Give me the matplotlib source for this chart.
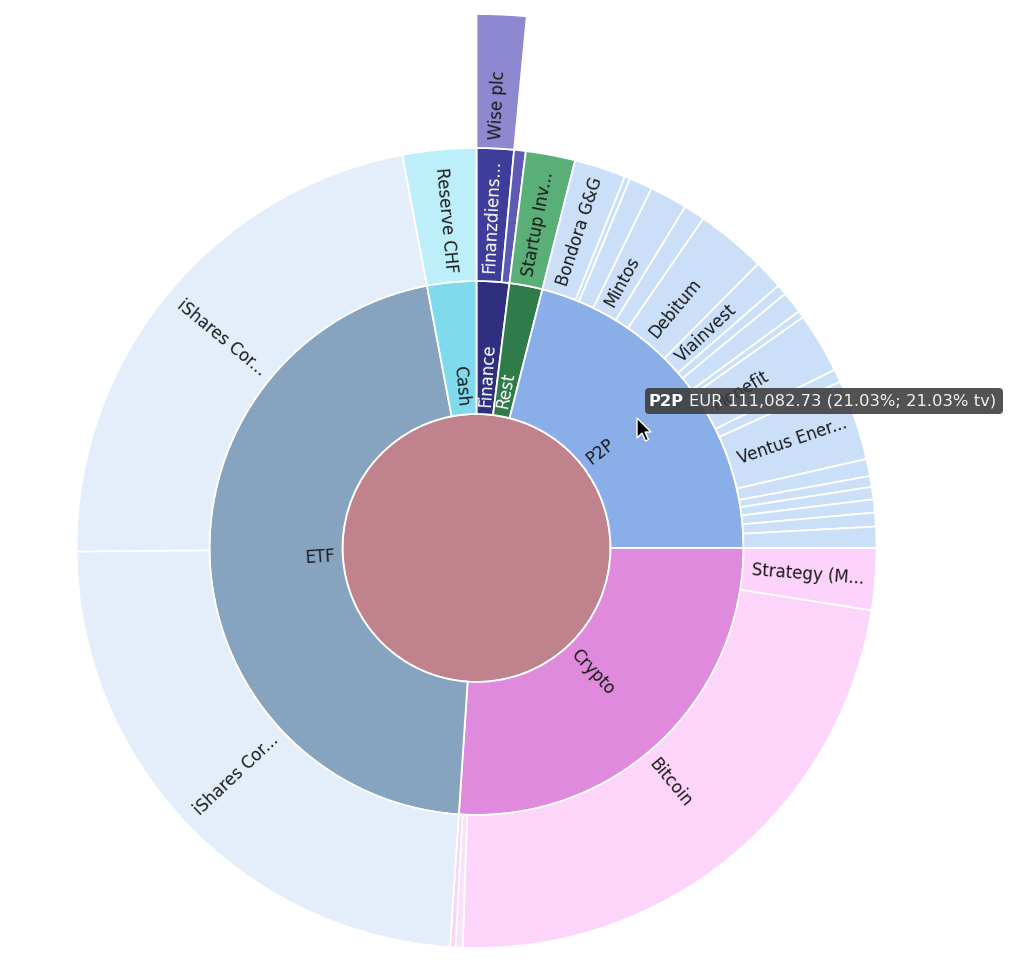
import matplotlib
matplotlib.use('Agg')
import matplotlib.pyplot as plt
import numpy as np
from matplotlib.patches import FancyBboxPatch, Polygon

# ---------------- data (share of total portfolio value, %) ----------------
groups = ['Finance', 'Rest', 'P2P', 'Crypto', 'ETF', 'Cash']

finance_names = ['Finanzdiens...', '']
finance_vals = [1.50, 0.47]
rest_names = ['Startup Inv...']
rest_vals = [2.00]
p2p_names = ['Bondora G&G', '', '', 'Mintos', '', 'Debitum', 'Viainvest', '', '', '',
             'Monefit', '', 'Ventus Ener...', '', '', '', '', '', '']
p2p_vals = [2.08, 0.22, 0.94, 1.53, 0.86, 2.83, 1.19, 0.42, 0.89, 0.28,
            2.44, 0.53, 3.25, 0.69, 0.44, 0.50, 0.53, 0.56, 0.85]
crypto_names = ['Strategy (M...', 'Bitcoin', '', '']
crypto_vals = [2.50, 23.06, 0.28, 0.22]
etf_names = ['iShares Cor...', 'iShares Cor...']
etf_vals = [23.81, 22.17]
cash_names = ['Reserve CHF']
cash_vals = [2.97]
# third level: child of "Finanzdiens..."
wise_names = ['Wise plc']
wise_vals = [1.50]

tooltip_name = 'P2P'
tooltip_rest = 'EUR 111,082.73 (21.03%; 21.03% tv)'

# ---------------- styling ----------------
center_color = '#C0828C'
group_colors = ['#2E2F7F', '#2F7B4A', '#8AAFE8', '#DF8ADD', '#86A3BF', '#80DAEE']
child_colors = [
    ['#3E3D9A', '#5D5AB6'],
    ['#5AAE78'],
    ['#CCDFF8'] * len(p2p_vals),
    ['#FDD3FB', '#FDD5FB', '#FAE0F9', '#FCD2F9'],
    ['#E3EEFA', '#E3EEFA'],
    ['#BDEFFB'],
]
wise_color = '#8D88CF'
white_text_groups = {'Finance', 'Rest'}
white_text_children = {'Finanzdiens...'}

W, H = 1024, 966
CX, CY = 476.5, H - 548
R0, R1, R2, R3 = 134, 267, 400, 534
EDGE = dict(edgecolor='white', linewidth=1.3)
FS = 12
DARK = '#1b1b1b'

fig = plt.figure(figsize=(W / 100, H / 100), dpi=100)
ax = fig.add_axes([0, 0, 1, 1])

group_vals = [sum(v) for v in [finance_vals, rest_vals, p2p_vals, crypto_vals, etf_vals, cash_vals]]
total = sum(group_vals)
all_child_vals = finance_vals + rest_vals + p2p_vals + crypto_vals + etf_vals + cash_vals
all_child_names = finance_names + rest_names + p2p_names + crypto_names + etf_names + cash_names
all_child_cols = [c for cl in child_colors for c in cl]

# center disk
ax.pie([total], radius=R0, center=(CX, CY), colors=[center_color],
       startangle=90, counterclock=False, wedgeprops=EDGE)
# level 1
ax.pie(group_vals, radius=R1, center=(CX, CY), colors=group_colors,
       startangle=90, counterclock=False, wedgeprops=dict(width=R1 - R0, **EDGE))
# level 2
ax.pie(all_child_vals, radius=R2, center=(CX, CY), colors=all_child_cols,
       startangle=90, counterclock=False, wedgeprops=dict(width=R2 - R1, **EDGE))
# level 3 (only Wise plc), remainder invisible
w3, _ = ax.pie(wise_vals + [total - sum(wise_vals)], radius=R3, center=(CX, CY),
               colors=[wise_color, 'white'], startangle=90, counterclock=False,
               wedgeprops=dict(width=R3 - R2, **EDGE))
w3[-1].set_visible(False)

ax.set_xlim(0, W)
ax.set_ylim(0, H)
ax.set_aspect('equal')
ax.axis('off')


def put_labels(vals, names, r_in, pad, white_set=(), offset=0.0):
    start = offset
    for v, n in zip(vals, names):
        mid = (start + v / 2) / total * 360.0
        start += v
        if not n:
            continue
        r = r_in + pad
        th = np.radians(mid)
        x = CX + r * np.sin(th)
        y = CY + r * np.cos(th)
        if mid < 180:
            rot, ha = 90 - mid, 'left'
        else:
            rot, ha = 270 - mid, 'right'
        col = 'white' if n in white_set else DARK
        ax.text(x, y, n, rotation=rot, rotation_mode='anchor', ha=ha, va='center',
                fontsize=FS, color=col)


put_labels(group_vals, groups, R0, 8, white_text_groups)
put_labels(all_child_vals, all_child_names, R1, 9, white_text_children)
put_labels(wise_vals, wise_names, R2, 9)

# tooltip
bx0, bx1 = 645, 1003
by0, by1 = H - 414, H - 388
box = FancyBboxPatch((bx0 + 4, by0 + 4), bx1 - bx0 - 8, by1 - by0 - 8,
                     boxstyle='round,pad=4', facecolor='#3b3b3b', edgecolor='none',
                     alpha=0.88, zorder=5)
ax.add_patch(box)
ty = (by0 + by1) / 2
t1 = ax.text(bx0 + 4, ty, tooltip_name, fontsize=11.8, fontweight='bold',
             color='white', ha='left', va='center', zorder=6)
fig.canvas.draw()
bb = t1.get_window_extent(renderer=fig.canvas.get_renderer())
x_next = ax.transData.inverted().transform((bb.x1, bb.y0))[0] + 5
ax.text(x_next, ty, tooltip_rest, fontsize=11.8, color='#f2f2f2',
        ha='left', va='center', zorder=6)

# mouse pointer (decoration)
tip_x, tip_y = 637, H - 418
shape = np.array([(0, 0), (0, -20), (5, -15), (8.5, -23), (11.5, -21.5), (8, -14), (14, -14)])
ax.add_patch(Polygon(shape + (tip_x, tip_y), closed=True, facecolor='black',
                     edgecolor='white', linewidth=1.0, zorder=7))

fig.savefig('out.png', dpi=100, facecolor='white')
